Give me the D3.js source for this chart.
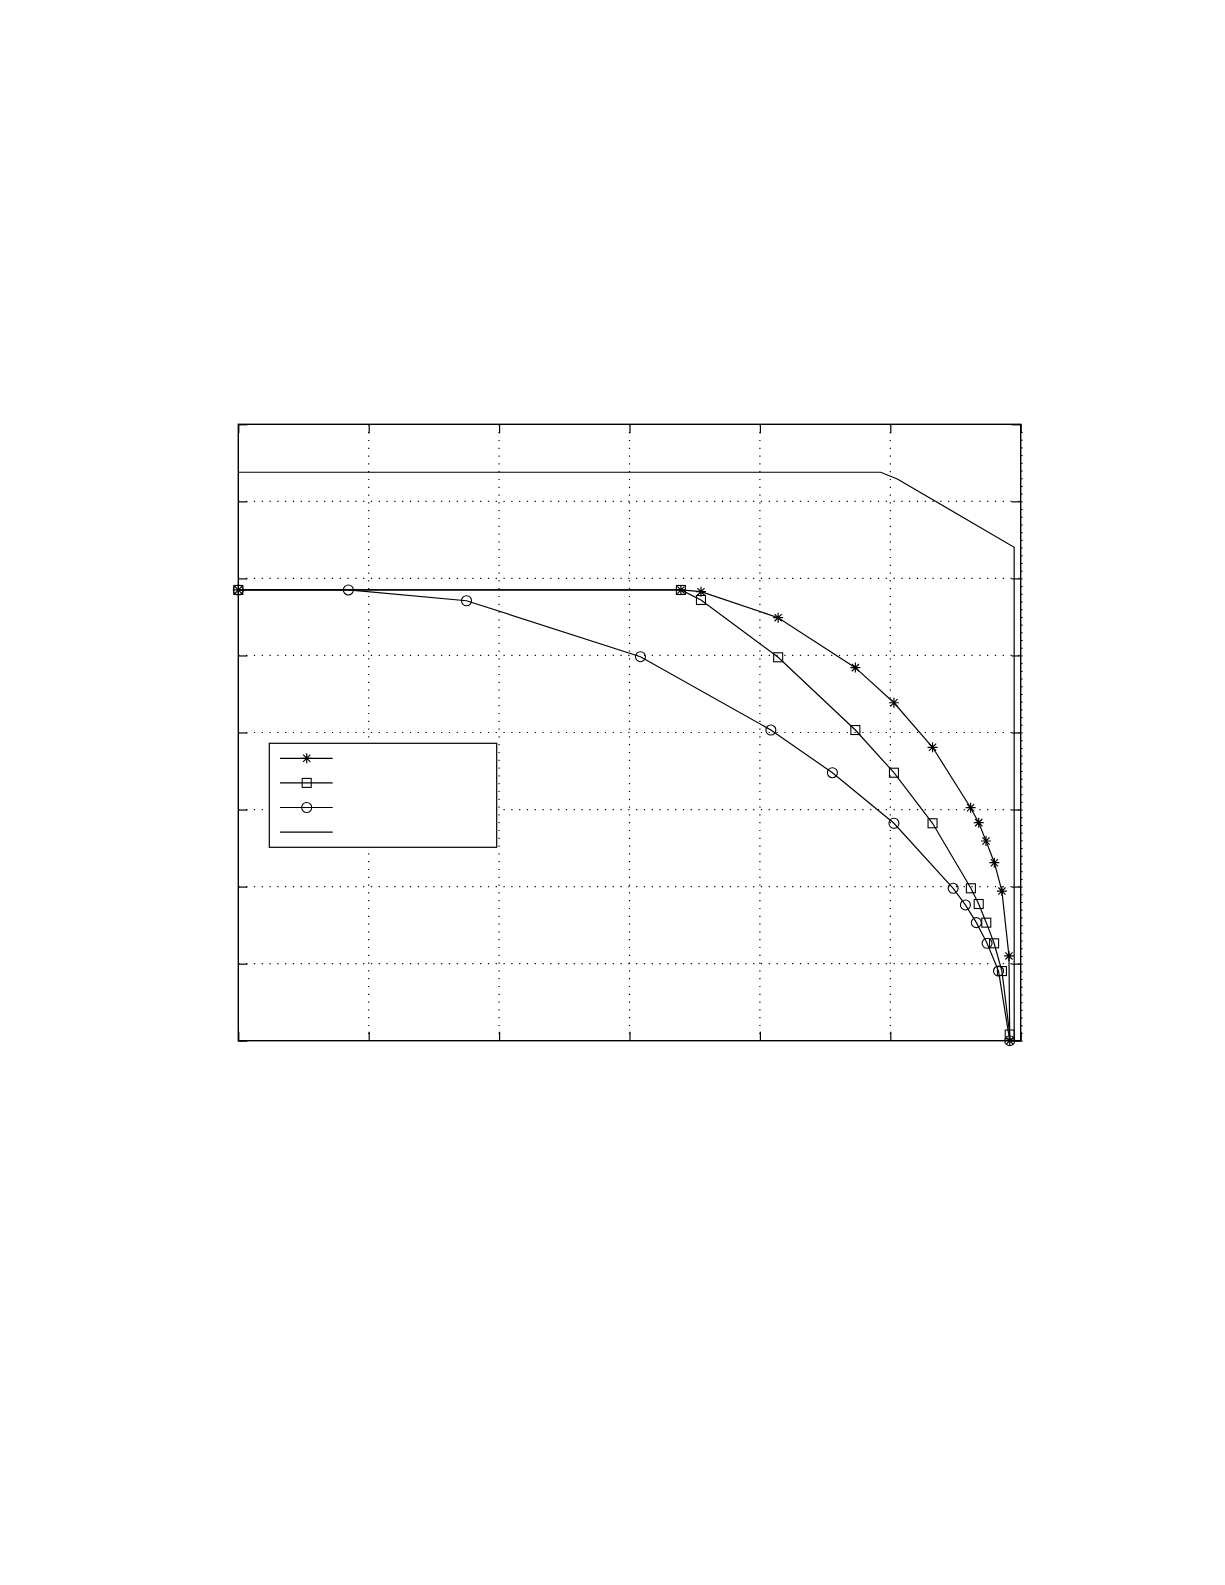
<!DOCTYPE html>
<html>
<head>
<meta charset="utf-8">
<script src="https://cdn.jsdelivr.net/npm/d3@7"></script>
<style>
  body { margin: 0; background: #fff; }
  svg { display: block; }
</style>
</head>
<body>
<svg id="chart" width="1225" height="1585"></svg>
<script>
// axis ranges and tick steps (no tick labels in the figure)
var xDomain = [0, 3],
    yDomain = [0, 4];
var xTicks = [0, 0.5, 1, 1.5, 2, 2.5, 3],
    yTicks = [0, 0.5, 1, 1.5, 2, 2.5, 3, 3.5, 4];

// series
var starX = [0, 1.697, 1.774, 2.070, 2.366, 2.514, 2.662, 2.808, 2.839, 2.867, 2.899, 2.928, 2.955, 2.958];
var starY = [2.925, 2.925, 2.914, 2.745, 2.421, 2.193, 1.904, 1.512, 1.415, 1.296, 1.155, 0.971, 0.550, 0];

var squareX = [0, 1.697, 1.774, 2.070, 2.366, 2.514, 2.662, 2.809, 2.839, 2.868, 2.898, 2.928, 2.958];
var squareY = [2.925, 2.925, 2.860, 2.488, 2.016, 1.739, 1.411, 0.989, 0.887, 0.766, 0.632, 0.452, 0.040];

var circleX = [0, 0.422, 0.875, 1.542, 2.042, 2.278, 2.514, 2.741, 2.788, 2.830, 2.871, 2.915, 2.958];
var circleY = [2.925, 2.925, 2.855, 2.492, 2.016, 1.739, 1.411, 0.989, 0.881, 0.766, 0.632, 0.452, 0];

var boundX = [0, 2.463, 2.527, 2.975, 2.975];
var boundY = [3.689, 3.689, 3.645, 3.202, 0];

var legendMarkers = ["star", "square", "circle", "none"];

var plotLeft = 238.3, plotRight = 1020.7, plotTop = 424.3, plotBottom = 1040.7;
var plotW = plotRight - plotLeft, plotH = plotBottom - plotTop;

var svg = d3.select("#chart");
svg.append("rect").attr("width", 1225).attr("height", 1585).attr("fill", "#fff");

var x = d3.scaleLinear().domain(xDomain).range([plotLeft, plotRight]);
var y = d3.scaleLinear().domain(yDomain).range([plotBottom, plotTop]);

// dotted grid
var grid = svg.append("g").attr("class", "grid");
grid.selectAll("line.gx")
    .data(xTicks.slice(1, -1))
    .enter().append("line")
    .attr("x1", function(d) { return x(d); })
    .attr("x2", function(d) { return x(d); })
    .attr("y1", plotTop).attr("y2", plotBottom)
    .attr("stroke", "#000").attr("stroke-width", 1.2)
    .attr("stroke-dasharray", "1.2,6.6");
grid.selectAll("line.gy")
    .data(yTicks.slice(1, -1))
    .enter().append("line")
    .attr("y1", function(d) { return y(d); })
    .attr("y2", function(d) { return y(d); })
    .attr("x1", plotLeft).attr("x2", plotRight)
    .attr("stroke", "#000").attr("stroke-width", 1.2)
    .attr("stroke-dasharray", "1.2,6.6");

// inward major ticks on all four sides
function tickAxis(axis, tx, ty) {
    var g = svg.append("g").attr("transform", "translate(" + tx + "," + ty + ")")
        .call(axis.tickSizeInner(-9).tickSizeOuter(0).tickFormat(""));
    g.select(".domain").remove();
    g.selectAll(".tick line").attr("stroke", "#000").attr("stroke-width", 1.2);
}
tickAxis(d3.axisBottom(x).tickValues(xTicks), 0, plotBottom);
tickAxis(d3.axisTop(x).tickValues(xTicks), 0, plotTop);
tickAxis(d3.axisLeft(y).tickValues(yTicks), plotLeft, 0);
tickAxis(d3.axisRight(y).tickValues(yTicks), plotRight, 0);

// small outward marks along the right edge
var minor = d3.range(0, 80).map(function(i) { return i * 0.05; });
svg.append("g").attr("transform", "translate(" + plotRight + ",0)")
    .call(d3.axisRight(y).tickValues(minor).tickSizeInner(2).tickSizeOuter(0).tickFormat(""))
    .call(function(g) { g.select(".domain").remove(); })
    .selectAll(".tick line").attr("stroke", "#000");

// frame
svg.append("rect")
    .attr("x", plotLeft).attr("y", plotTop)
    .attr("width", plotW).attr("height", plotH)
    .attr("fill", "none").attr("stroke", "#000").attr("stroke-width", 1.4);

var line = d3.line()
    .x(function(d) { return x(d[0]); })
    .y(function(d) { return y(d[1]); });

function zip(xs, ys) {
    return xs.map(function(v, i) { return [v, ys[i]]; });
}

function drawMarker(g, kind, cx, cy) {
    if (kind === "square") {
        g.append("rect")
            .attr("x", cx - 4.5).attr("y", cy - 4.5)
            .attr("width", 9).attr("height", 9)
            .attr("fill", "none").attr("stroke", "#000").attr("stroke-width", 1.1);
    } else if (kind === "circle") {
        g.append("circle")
            .attr("cx", cx).attr("cy", cy).attr("r", 5)
            .attr("fill", "none").attr("stroke", "#000").attr("stroke-width", 1.1);
    } else if (kind === "star") {
        var r = 5, d = 3.6;
        var p = d3.path();
        p.moveTo(cx - r, cy); p.lineTo(cx + r, cy);
        p.moveTo(cx, cy - r); p.lineTo(cx, cy + r);
        p.moveTo(cx - d, cy - d); p.lineTo(cx + d, cy + d);
        p.moveTo(cx - d, cy + d); p.lineTo(cx + d, cy - d);
        g.append("path").attr("d", p.toString())
            .attr("fill", "none").attr("stroke", "#000").attr("stroke-width", 1.2);
    }
}

var series = [
    { pts: zip(starX, starY), marker: "star" },
    { pts: zip(squareX, squareY), marker: "square" },
    { pts: zip(circleX, circleY), marker: "circle" },
    { pts: zip(boundX, boundY), marker: "none" }
];

var plot = svg.append("g");
series.forEach(function(s) {
    plot.append("path")
        .datum(s.pts)
        .attr("d", line)
        .attr("fill", "none")
        .attr("stroke", "#000")
        .attr("stroke-width", 1.2);
    if (s.marker !== "none") {
        var mg = plot.append("g");
        s.pts.forEach(function(d) { drawMarker(mg, s.marker, x(d[0]), y(d[1])); });
    }
});

// legend (no labels in the figure)
var legend = svg.append("g");
legend.append("rect")
    .attr("x", 269.3).attr("y", 743.3)
    .attr("width", 227.4).attr("height", 104)
    .attr("fill", "#fff").attr("stroke", "#000").attr("stroke-width", 1.2);
legendMarkers.forEach(function(m, i) {
    var ly = 758.3 + i * 24.6;
    legend.append("line")
        .attr("x1", 280).attr("x2", 332.7)
        .attr("y1", ly).attr("y2", ly)
        .attr("stroke", "#000").attr("stroke-width", 1.2);
    drawMarker(legend, m, 306.7, ly);
});
</script>
</body>
</html>
